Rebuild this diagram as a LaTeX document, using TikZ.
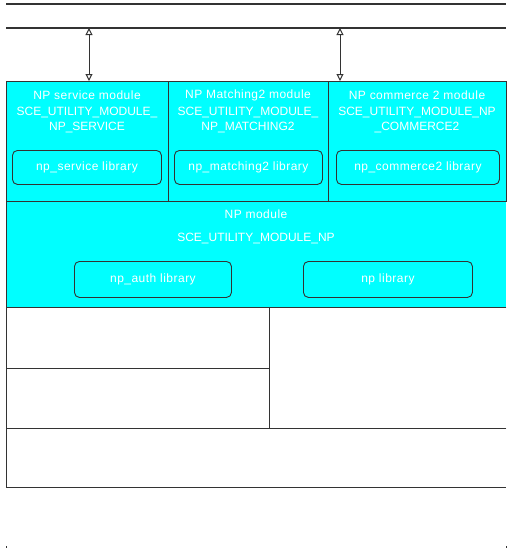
\documentclass[tikz,border=0pt]{standalone}
\usepackage{fontspec}
\setmainfont{Liberation Sans}
\newfontfamily\spaced[LetterSpace=4]{Liberation Sans}
\usetikzlibrary{arrows.meta}
\definecolor{boxfill}{HTML}{00FFFF}
\definecolor{edge}{HTML}{333333}
\begin{document}
\begin{tikzpicture}[x=1pt,y=-1pt,
  module/.style={fill=boxfill, draw=edge, line width=1pt, inner sep=0pt, anchor=north west},
  plain/.style={inner sep=0pt, anchor=north west},
  lib/.style={draw=edge, line width=0.9pt, rounded corners=5pt, inner sep=0pt, anchor=north west,
              text=white, font=\spaced\fontsize{12}{14}\selectfont},
  txt/.style={text=white, font=\fontsize{12}{14}\selectfont, align=center, inner sep=0pt},
  ttl/.style={txt, font=\spaced\fontsize{12}{14}\selectfont},
  frame/.style={draw=edge, line width=1pt},
  link/.style={draw=edge, line width=1pt, {Triangle[open,width=7pt,length=7pt]}-{Triangle[open,width=7pt,length=7pt]}}
]
\useasboundingbox (0,0) rectangle (509,552);

% top lines
\coordinate (t1l) at (6,4);   \coordinate (t1r) at (506,4);
\coordinate (t2l) at (6,28);  \coordinate (t2r) at (506,28);
\draw[frame, line width=1.2pt] (t1l) -- (t1r);
\draw[frame, line width=1.2pt] (t2l) -- (t2r);

% NP module (filled first so the upper borders stay visible)
\node[plain, fill=boxfill, minimum width=500pt, minimum height=106pt] (np) at (6,201) {};
\draw[frame] (np.north west) -- (np.south west);

% upper modules
\node[module, minimum width=162pt, minimum height=120pt] (svc) at (6,81) {};
\node[module, minimum width=160pt, minimum height=120pt] (mat) at (168,81) {};
\node[module, minimum width=178pt, minimum height=120pt] (com) at (328,81) {};

% library boxes
\node[lib, minimum width=149pt, minimum height=34pt] (svclib) at (12,150) {np\_service library};
\node[lib, minimum width=148pt, minimum height=34pt] (matlib) at (174,150) {np\_matching2 library};
\node[lib, minimum width=163pt, minimum height=34pt] (comlib) at (336,150) {np\_commerce2 library};
\node[lib, minimum width=157pt, minimum height=36pt] (authlib) at (74,261) {np\_auth library};
\node[lib, minimum width=169pt, minimum height=36pt] (nplib) at (303,261) {np library};

% module texts
\node[ttl] (svct) at (87,95) {NP service module};
\node[txt] (svcc) at (87,120) {SCE\_UTILITY\_MODULE\_\\NP\_SERVICE};
\node[ttl] (matt) at (248,95) {NP Matching2 module};
\node[txt] (matc) at (248,120) {SCE\_UTILITY\_MODULE\_\\NP\_MATCHING2};
\node[ttl] (comt) at (417,95) {NP commerce 2 module};
\node[txt] (comc) at (417,120) {SCE\_UTILITY\_MODULE\_NP\\\_COMMERCE2};
\node[ttl] (npt) at (256,214) {NP module};
\node[txt] (npc) at (256,238) {SCE\_UTILITY\_MODULE\_NP};

% lower frames
\node[plain, frame, minimum width=263pt, minimum height=61pt] (b1) at (6,307) {};
\node[plain, frame, minimum width=263pt, minimum height=60pt] (b2) at (6,368) {};
\node[plain, minimum width=237pt, minimum height=121pt] (b3) at (269,307) {};
\draw[frame] (b3.north east) -- (b3.north west) -- (b3.south west) -- (b3.south east);
\node[plain, minimum width=500pt, minimum height=59pt] (b4) at (6,428) {};
\draw[frame] (b4.north east) -- (b4.north west) -- (b4.south west) -- (b4.south east);

% connectors
\coordinate (a1) at (89,28);
\coordinate (a2) at (340,28);
\draw[link] (a1) -- (a1 |- svc.north);
\draw[link] (a2) -- (a2 |- com.north);

% corner marks
\fill[edge] (5.5,546) rectangle (6.5,548);
\fill[edge] (505.5,546) rectangle (506.5,548);
\end{tikzpicture}
\end{document}
